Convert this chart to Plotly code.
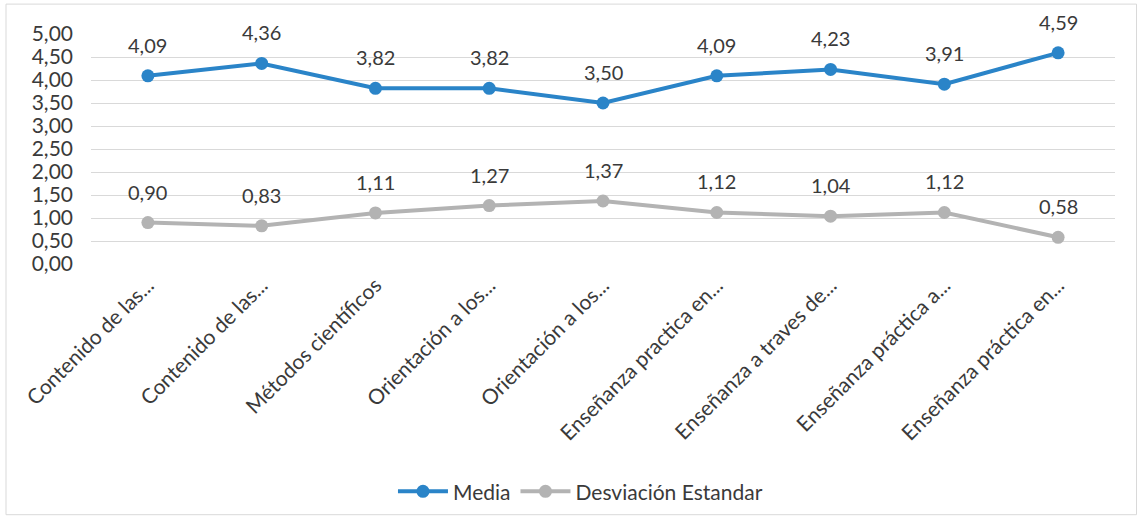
import plotly.graph_objects as go

categorias = [
    "Contenido de las...",
    "Contenido de las...",
    "Métodos científicos",
    "Orientación a los...",
    "Orientación a los...",
    "Enseñanza practica en...",
    "Enseñanza a traves de...",
    "Enseñanza práctica a...",
    "Enseñanza práctica en...",
]
media = [4.09, 4.36, 3.82, 3.82, 3.50, 4.09, 4.23, 3.91, 4.59]
desviacion = [0.90, 0.83, 1.11, 1.27, 1.37, 1.12, 1.04, 1.12, 0.58]
ticks_y = [0, 0.5, 1, 1.5, 2, 2.5, 3, 3.5, 4, 4.5, 5]

AZUL = "#2a84c8"
GRIS = "#b3b3b3"
FUENTE = "Lato, Open Sans, sans-serif"
TEXTO = "#3a3a3a"

x = list(range(len(categorias)))


def fmt(v):
    return f"{v:.2f}".replace(".", ",")


fig = go.Figure()
fig.add_trace(go.Scatter(
    x=x, y=media, name="Media", mode="lines+markers",
    line=dict(color=AZUL, width=4), marker=dict(color=AZUL, size=13),
))
fig.add_trace(go.Scatter(
    x=x, y=desviacion, name="Desviación Estandar", mode="lines+markers",
    line=dict(color=GRIS, width=4), marker=dict(color=GRIS, size=13),
))

anotaciones = []
for serie in (media, desviacion):
    for xi, v in zip(x, serie):
        anotaciones.append(dict(
            x=xi, y=v, xref="x", yref="y", text=fmt(v), showarrow=False,
            yshift=31, font=dict(size=20, color=TEXTO, family=FUENTE),
        ))

fig.update_layout(
    width=1145, height=528,
    margin=dict(l=91, r=30, t=34, b=264),
    paper_bgcolor="white", plot_bgcolor="white",
    separators=",.",
    font=dict(family=FUENTE, color=TEXTO),
    annotations=anotaciones,
    showlegend=True,
    legend=dict(
        orientation="h", x=0.478, xanchor="center", y=-0.99, yanchor="middle",
        font=dict(size=21, color=TEXTO), itemwidth=50,
    ),
    shapes=[dict(
        type="rect", xref="paper", yref="paper",
        x0=-0.083, x1=1.021, y0=-1.09, y1=1.13,
        line=dict(color="#d9d9d9", width=1),
    )],
)
fig.update_xaxes(
    tickmode="array", tickvals=x, ticktext=categorias, tickangle=-45,
    range=[-0.5, len(categorias) - 0.5],
    showgrid=False, zeroline=False, showline=False,
    tickfont=dict(size=21, color=TEXTO), ticklabelstandoff=4,
)
fig.update_yaxes(
    range=[0, 5], tickmode="array", tickvals=ticks_y, tickformat=".2f",
    showgrid=True, gridcolor="#d9d9d9", gridwidth=1,
    zeroline=False, showline=False,
    tickfont=dict(size=21, color=TEXTO), ticklabelstandoff=17,
)

fig.write_html("out.html")
